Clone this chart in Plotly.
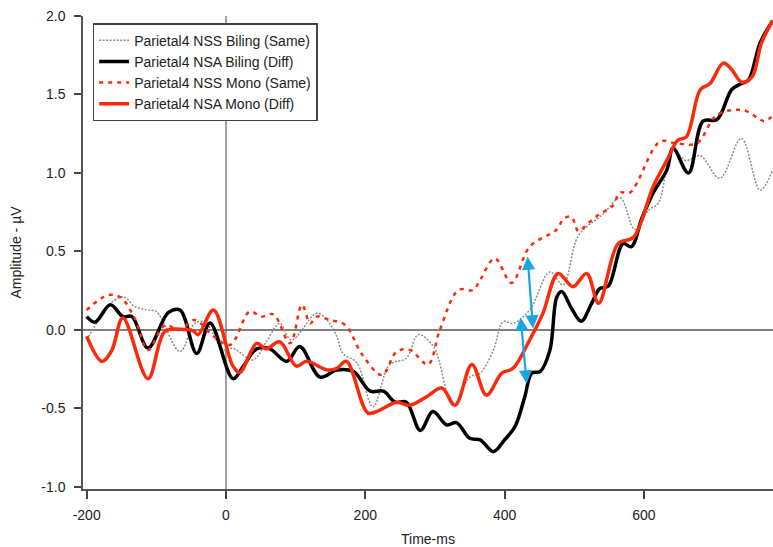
import plotly.graph_objects as go

# Parietal4 ERP waveforms, time in ms, amplitude in microvolts
t_nss_biling = [-200, -186, -171, -147, -131, -114, -100, -66, -45, -30, -4, 10, 39, 58, 77, 94,
                130, 145, 159, 168, 188, 211, 235, 259, 276, 298, 326, 350, 365, 384, 398, 412,
                436, 465, 484, 506, 542, 566, 587, 606, 621, 633, 642, 660, 681, 709, 740, 767, 785]
v_nss_biling = [-0.064, 0.042, 0.15, 0.21, 0.15, 0.127, 0.117, -0.138, 0.042, 0.05, -0.127, -0.117,
                -0.19, -0.075, 0.042, -0.064, 0.106, 0.064, -0.04, -0.15, -0.21, -0.49, -0.22, -0.18,
                -0.03, -0.106, -0.48, -0.3, -0.275, -0.127, 0.053, 0.042, 0.127, 0.37, 0.287, 0.6,
                0.74, 0.84, 0.64, 0.76, 0.81, 1.04, 1.15, 1.08, 1.11, 0.966, 1.22, 0.89, 1.02]

t_nsa_biling = [-200, -188, -166, -148, -135, -112, -83, -66, -42, -23, 10, 25, 44, 63, 87, 106,
                135, 159, 183, 207, 226, 243, 259, 279, 297, 317, 331, 350, 365, 384, 400, 415,
                429, 439, 451, 465, 475, 482, 497, 510, 525, 537, 549, 570, 582, 597, 613, 633,
                642, 664, 685, 705, 726, 740, 750, 767, 785]
v_nsa_biling = [0.085, 0.05, 0.16, 0.085, 0.085, -0.115, 0.11, 0.127, -0.15, 0.045, -0.31, -0.23,
                -0.12, -0.12, -0.2, -0.106, -0.3, -0.255, -0.265, -0.39, -0.39, -0.46, -0.46, -0.64,
                -0.52, -0.605, -0.59, -0.69, -0.70, -0.775, -0.70, -0.615, -0.425, -0.275, -0.265,
                -0.13, 0.21, 0.245, 0.13, 0.055, 0.17, 0.265, 0.28, 0.55, 0.53, 0.71, 0.87, 1.02,
                1.157, 1.0, 1.33, 1.34, 1.53, 1.57, 1.59, 1.83, 1.97]

t_nss_mono = [-200, -171, -152, -131, -112, -88, -66, -45, -18, 6, 34, 51, 68, 92, 109, 121, 130,
              149, 171, 196, 224, 245, 264, 290, 307, 334, 355, 365, 386, 410, 436, 475, 485, 496,
              506, 520, 537, 554, 566, 580, 623, 645, 676, 705, 743, 774, 785]
v_nss_mono = [0.127, 0.22, 0.21, 0.074, -0.127, 0.03, 0.0, 0.064, -0.04, -0.095, 0.117, 0.085, 0.1,
              -0.085, 0.16, 0.042, 0.085, 0.064, 0.032, -0.16, -0.287, -0.138, -0.127, -0.22, 0.0,
              0.255, 0.255, 0.32, 0.456, 0.3, 0.53, 0.64, 0.71, 0.72, 0.63, 0.68, 0.74, 0.785,
              0.875, 0.875, 1.2, 1.19, 1.19, 1.37, 1.40, 1.33, 1.37]

t_nsa_mono = [-200, -178, -164, -148, -112, -88, -66, -47, -40, -18, 10, 20, 44, 58, 77, 101, 116,
              145, 159, 173, 204, 221, 245, 264, 288, 310, 329, 353, 374, 396, 412, 436, 455, 477,
              498, 518, 535, 563, 585, 613, 633, 649, 661, 681, 695, 714, 726, 740, 755, 769, 785]
v_nsa_mono = [-0.04, -0.2, -0.13, 0.076, -0.31, -0.01, 0.005, -0.006, -0.03, 0.127, -0.23, -0.27,
              -0.085, -0.12, -0.075, -0.23, -0.2, -0.255, -0.245, -0.2, -0.53, -0.51, -0.46, -0.48,
              -0.425, -0.37, -0.48, -0.22, -0.415, -0.275, -0.245, -0.064, 0.106, 0.36, 0.276,
              0.36, 0.17, 0.55, 0.59, 0.91, 1.08, 1.21, 1.23, 1.53, 1.57, 1.70, 1.66, 1.58, 1.61,
              1.83, 1.97]

# double-headed difference markers: (x_top, y_top, x_bottom, y_bottom)
diff_arrows = [(433, 0.467, 441, 0.0), (423, 0.08, 432, -0.35)]

x_ticks = [-200, 0, 200, 400, 600]
x_tick_text = ["-200", "0", "200", "400", "600"]
y_ticks = [-1.0, -0.5, 0.0, 0.5, 1.0, 1.5, 2.0]
y_tick_text = ["-1.0", "-0.5", "0.0", "0.5", "1.0", "1.5", "2.0"]

FONT = "Liberation Sans, Arial, sans-serif"
RED = "#fa2a0c"

fig = go.Figure()
fig.add_trace(go.Scatter(x=t_nss_biling, y=v_nss_biling, mode="lines", line_shape="spline",
                         name="Parietal4 NSS Biling (Same)",
                         line=dict(color="#8c8c8c", width=1.5, dash="2px,1.5px")))
fig.add_trace(go.Scatter(x=t_nsa_biling, y=v_nsa_biling, mode="lines", line_shape="spline",
                         name="Parietal4 NSA Biling (Diff)",
                         line=dict(color="#000000", width=3.5)))
fig.add_trace(go.Scatter(x=t_nss_mono, y=v_nss_mono, mode="lines", line_shape="spline",
                         name="Parietal4 NSS Mono (Same)",
                         line=dict(color=RED, width=2.5, dash="4px,5px")))
fig.add_trace(go.Scatter(x=t_nsa_mono, y=v_nsa_mono, mode="lines", line_shape="spline",
                         name="Parietal4 NSA Mono (Diff)",
                         line=dict(color=RED, width=3.5)))

# zero reference lines
fig.add_shape(type="line", xref="x", yref="paper", x0=0, x1=0, y0=0, y1=1,
              line=dict(color="#444444", width=1), layer="below")
fig.add_shape(type="line", xref="paper", yref="y", x0=0, x1=1, y0=0, y1=0,
              line=dict(color="#555555", width=1.5), layer="below")

for xt, yt, xb, yb in diff_arrows:
    fig.add_annotation(x=xt, y=yt, ax=xb, ay=yb, xref="x", yref="y", axref="x", ayref="y",
                       text="", showarrow=True, arrowhead=2, startarrowhead=2,
                       arrowside="end+start", arrowsize=1.2, startarrowsize=1.2,
                       arrowwidth=2.2, arrowcolor="#19a5e4")

fig.update_layout(
    width=773, height=547,
    margin=dict(l=83, r=0, t=16, b=58),
    paper_bgcolor="white", plot_bgcolor="white",
    font=dict(family=FONT, size=14, color="#222222"),
    showlegend=True,
    legend=dict(x=0.014, y=0.985, xanchor="left", yanchor="top",
                bordercolor="#444444", borderwidth=1.5, bgcolor="white",
                font=dict(family=FONT, size=14, color="#222222"),
                tracegroupgap=0, itemwidth=30),
)
fig.update_xaxes(range=[-205.3, 785.4], tickvals=x_ticks, ticktext=x_tick_text,
                 ticks="outside", ticklen=8, ticklabelstandoff=4,
                 tickcolor="#444444", tickwidth=1.5, showline=True, linecolor="#555555",
                 linewidth=2, showgrid=False, zeroline=False,
                 title=dict(text="Time-ms", font=dict(size=14), standoff=12))
fig.update_yaxes(range=[-1.013, 2.0], tickvals=y_ticks, ticktext=y_tick_text,
                 ticks="outside", ticklen=7, ticklabelstandoff=6,
                 tickcolor="#444444", tickwidth=1.5, showline=True,
                 linecolor="#555555", linewidth=1.5, showgrid=False, zeroline=False,
                 title=dict(text="Amplitude - µV", font=dict(size=14), standoff=16))

fig.write_html("out.html")
